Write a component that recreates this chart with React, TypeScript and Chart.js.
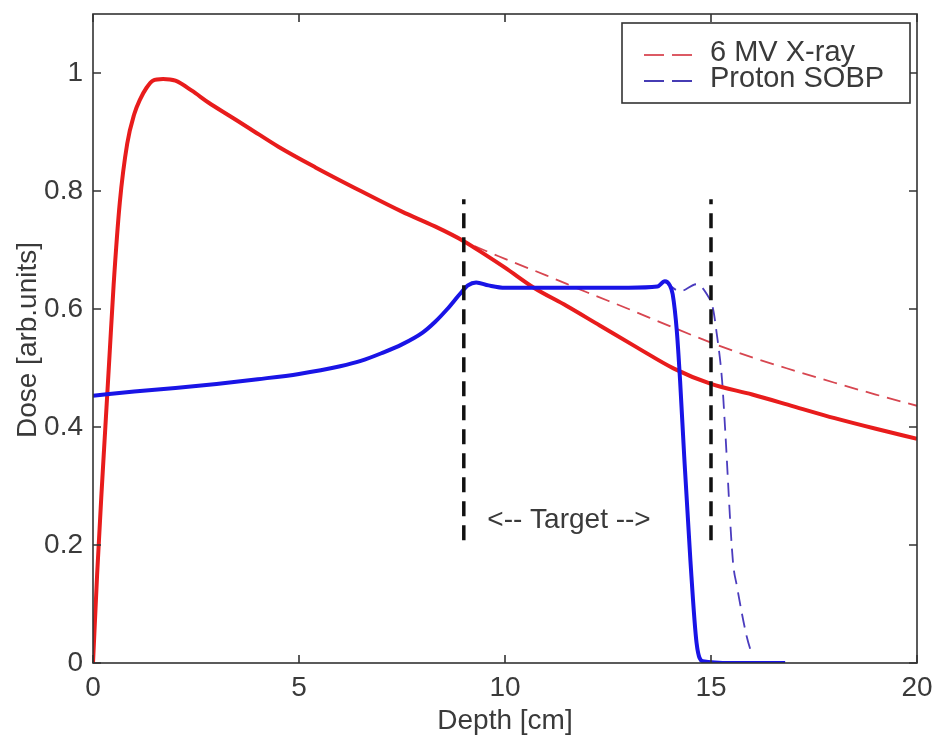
import React, { useEffect, useRef } from "react";
import { Chart, registerables } from "chart.js";

Chart.register(...registerables);

// X-ray (solid, measured)
const xrayX = [0, 0.1, 0.2, 0.3, 0.4, 0.5, 0.65, 0.83, 1.0, 1.14, 1.3, 1.45, 1.7, 2.0, 2.4, 2.8, 3.3, 3.8, 4.5, 5.4, 6.5, 7.5, 8.3, 9, 9.5, 10, 10.7, 11.5, 12.3, 13.2, 14.1, 15, 16, 17, 18, 19, 20];
const xrayY = [0.0, 0.15, 0.28, 0.4, 0.52, 0.64, 0.78, 0.88, 0.93, 0.955, 0.975, 0.987, 0.99, 0.987, 0.97, 0.95, 0.928, 0.906, 0.875, 0.84, 0.8, 0.765, 0.74, 0.715, 0.693, 0.67, 0.636, 0.605, 0.572, 0.535, 0.499, 0.473, 0.455, 0.435, 0.415, 0.397, 0.38];

// X-ray (dashed)
const xrayDashX = [8.3, 9, 10, 11, 12, 13, 14, 15, 16, 17, 18, 19, 20];
const xrayDashY = [0.74, 0.715, 0.685, 0.657, 0.628, 0.6, 0.571, 0.543, 0.518, 0.496, 0.475, 0.455, 0.436];

// Proton SOBP (solid)
const protonX = [0, 1, 2, 3, 4, 5, 6, 6.5, 7, 7.5, 8, 8.3, 8.6, 8.9, 9.1, 9.3, 9.6, 10, 11, 12, 13, 13.7, 13.88, 14.0, 14.07, 14.17, 14.25, 14.35, 14.5, 14.65, 14.8, 15.5, 16.8];
const protonY = [0.453, 0.46, 0.466, 0.473, 0.481, 0.49, 0.503, 0.512, 0.525, 0.54, 0.56, 0.578, 0.6, 0.625, 0.64, 0.645, 0.64, 0.636, 0.636, 0.636, 0.636, 0.638, 0.647, 0.64, 0.625, 0.563, 0.478, 0.35, 0.174, 0.034, 0.003, 0.0, 0.0];

// Proton SOBP (dashed)
const protonDashX = [13.88, 14.0, 14.25, 14.65, 14.9, 15.05, 15.13, 15.27, 15.34, 15.53, 15.63, 15.87, 16.0];
const protonDashY = [0.647, 0.64, 0.63, 0.642, 0.625, 0.6, 0.563, 0.478, 0.4, 0.174, 0.13, 0.044, 0.013];

// Target boundaries
const targetX = [9, 15];
const targetY = [0.208, 0.786];

const xTicks = [0, 5, 10, 15, 20];
const yTicks = [0, 0.2, 0.4, 0.6, 0.8, 1];

const legendLabels = ["6 MV X-ray", "Proton SOBP"];
const legendColors = ["rgb(220,90,100)", "rgb(70,60,180)"];
const xTitle = "Depth [cm]";
const yTitle = "Dose [arb.units]";
const targetLabel = "<-- Target -->";

const FONT = "'Liberation Sans', Arial, sans-serif";
const TEXT = "#3a3a3a";

const pts = (xs: number[], ys: number[]) => xs.map((x, i) => ({ x, y: ys[i] }));

const framePlugin = {
  id: "frame",
  afterDraw(chart: any) {
    const { ctx, chartArea: a, scales } = chart;
    const xs = scales.x;
    const ys = scales.y;
    ctx.save();
    ctx.strokeStyle = "#333";
    ctx.lineWidth = 1.6;
    ctx.strokeRect(a.left, a.top, a.right - a.left, a.bottom - a.top);
    const tl = 8;
    ctx.beginPath();
    xTicks.forEach((v) => {
      const px = xs.getPixelForValue(v);
      ctx.moveTo(px, a.bottom);
      ctx.lineTo(px, a.bottom - tl);
      ctx.moveTo(px, a.top);
      ctx.lineTo(px, a.top + tl);
    });
    yTicks.forEach((v) => {
      const py = ys.getPixelForValue(v);
      ctx.moveTo(a.left, py);
      ctx.lineTo(a.left + tl, py);
      ctx.moveTo(a.right, py);
      ctx.lineTo(a.right - tl, py);
    });
    ctx.stroke();

    // Target label
    ctx.fillStyle = TEXT;
    ctx.font = `28px ${FONT}`;
    ctx.textAlign = "center";
    ctx.textBaseline = "middle";
    ctx.fillText(targetLabel, 569, 520);

    // Axis titles
    ctx.font = `28px ${FONT}`;
    ctx.fillText(xTitle, 505, 721);
    ctx.save();
    ctx.translate(28, 340);
    ctx.rotate(-Math.PI / 2);
    ctx.fillText(yTitle, 0, 0);
    ctx.restore();

    // Legend
    const lx = 622, ly = 23, lw = 288, lh = 80;
    ctx.fillStyle = "#fff";
    ctx.fillRect(lx, ly, lw, lh);
    ctx.lineWidth = 1.6;
    ctx.strokeStyle = "#333";
    ctx.strokeRect(lx, ly, lw, lh);
    ctx.textAlign = "left";
    ctx.font = `29px ${FONT}`;
    legendLabels.forEach((lab, i) => {
      const cy = ly + 30 + i * 26;
      ctx.strokeStyle = legendColors[i];
      ctx.lineWidth = 2;
      ctx.setLineDash([20, 8]);
      ctx.beginPath();
      ctx.moveTo(644, cy + 2);
      ctx.lineTo(696, cy + 2);
      ctx.stroke();
      ctx.setLineDash([]);
      ctx.fillStyle = TEXT;
      ctx.fillText(lab, 710, cy);
    });
    ctx.restore();
  },
};

export default function App() {
  const ref = useRef<HTMLCanvasElement | null>(null);
  useEffect(() => {
    if (!ref.current) return;
    const chart = new Chart(ref.current, {
      type: "line",
      data: {
        datasets: [
          {
            label: "X-ray dashed",
            data: pts(xrayDashX, xrayDashY),
            borderColor: "rgb(215,70,80)",
            borderWidth: 1.8,
            borderDash: [14, 8],
            pointRadius: 0,
            cubicInterpolationMode: "monotone",
            order: 5,
          },
          {
            label: "Proton dashed",
            data: pts(protonDashX, protonDashY),
            borderColor: "rgb(75,60,190)",
            borderWidth: 1.8,
            borderDash: [14, 8],
            pointRadius: 0,
            cubicInterpolationMode: "monotone",
            order: 4,
          },
          {
            label: "X-ray",
            data: pts(xrayX, xrayY),
            borderColor: "rgb(232,28,28)",
            borderWidth: 4,
            pointRadius: 0,
            cubicInterpolationMode: "monotone",
            order: 3,
          },
          {
            label: "Proton",
            data: pts(protonX, protonY),
            borderColor: "rgb(25,20,230)",
            borderWidth: 4,
            pointRadius: 0,
            cubicInterpolationMode: "monotone",
            order: 2,
          },
          {
            label: "Target start",
            data: pts([targetX[0], targetX[0]], targetY),
            borderColor: "#111",
            borderWidth: 3.5,
            borderDash: [15, 9],
            pointRadius: 0,
            order: 1,
          },
          {
            label: "Target end",
            data: pts([targetX[1], targetX[1]], targetY),
            borderColor: "#111",
            borderWidth: 3.5,
            borderDash: [15, 9],
            pointRadius: 0,
            order: 1,
          },
        ],
      },
      options: {
        animation: false,
        responsive: false,
        layout: { padding: { top: 14, right: 15, left: 0, bottom: 0 } },
        plugins: { legend: { display: false }, tooltip: { enabled: false } },
        scales: {
          x: {
            type: "linear",
            min: 0,
            max: 20,
            afterFit: (s: any) => {
              s.height = 74;
              s.paddingLeft = 0;
              s.paddingRight = 0;
            },
            afterBuildTicks: (s: any) => {
              s.ticks = xTicks.map((v) => ({ value: v }));
            },
            grid: { display: false, drawTicks: false },
            border: { display: false },
            ticks: {
              padding: 8,
              color: TEXT,
              font: { size: 28, family: FONT },
              maxRotation: 0,
              autoSkip: false,
              callback: (v: any) => String(v),
            },
          },
          y: {
            type: "linear",
            min: 0,
            max: 1.1,
            afterFit: (s: any) => {
              s.width = 93;
              s.paddingTop = 0;
              s.paddingBottom = 0;
            },
            afterBuildTicks: (s: any) => {
              s.ticks = yTicks.map((v) => ({ value: v }));
            },
            grid: { display: false, drawTicks: false },
            border: { display: false },
            ticks: {
              padding: 10,
              color: TEXT,
              font: { size: 28, family: FONT },
              autoSkip: false,
              callback: (v: any) => String(Math.round(v * 10) / 10),
            },
          },
        },
      },
      plugins: [framePlugin],
    } as any);
    return () => chart.destroy();
  }, []);
  return (
    <div style={{ position: "absolute", left: 0, top: 0, width: 932, height: 737, background: "#fff" }}>
      <canvas ref={ref} width={932} height={737} style={{ width: 932, height: 737, display: "block" }} />
    </div>
  );
}
